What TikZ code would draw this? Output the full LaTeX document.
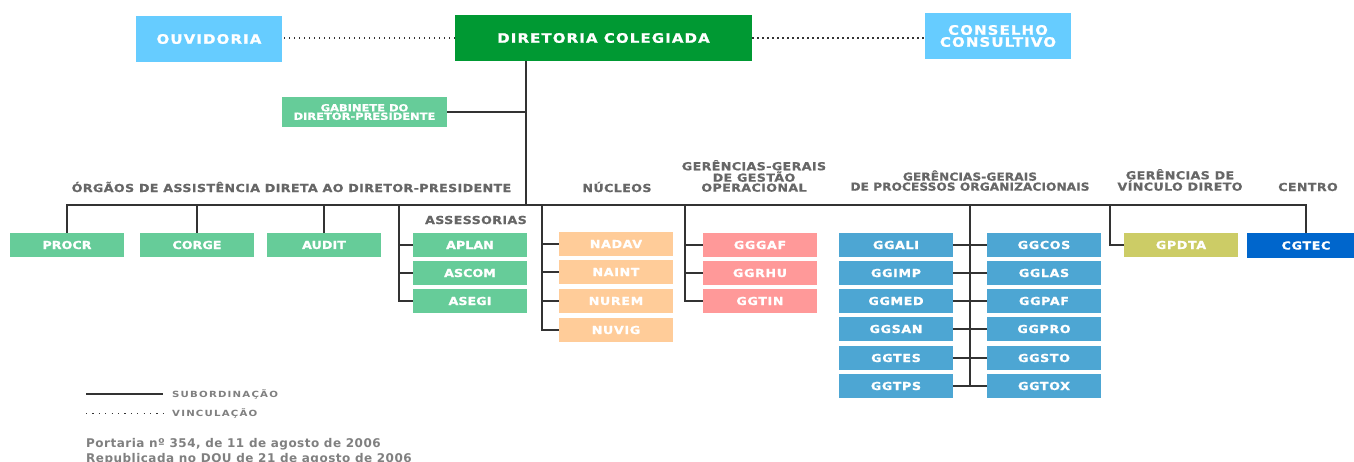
\documentclass[tikz,border=0pt]{standalone}
\usepackage{fontspec}
\setmainfont{DejaVu Sans}
\definecolor{cbl}{HTML}{66CCFF}
\definecolor{cdir}{HTML}{009933}
\definecolor{cgr}{HTML}{66CC99}
\definecolor{cor}{HTML}{FFCC99}
\definecolor{cpk}{HTML}{FF9999}
\definecolor{cgg}{HTML}{4DA6D3}
\definecolor{cyl}{HTML}{CCCC66}
\definecolor{cct}{HTML}{0066CC}
\definecolor{clab}{HTML}{666666}
\definecolor{cleg}{HTML}{808080}
\definecolor{cline}{HTML}{333333}
\newcommand\fbig{\fontsize{13}{12}\selectfont\bfseries\addfontfeatures{FakeStretch=1.15,FakeBold=1.2,LetterSpace=8.7}}
\newcommand\fgab{\fontsize{9.8}{8.5}\selectfont\bfseries\addfontfeatures{FakeStretch=1.17,FakeBold=1,LetterSpace=0}}
\newcommand\fgreen{\fontsize{11}{12}\selectfont\bfseries\addfontfeatures{FakeStretch=1.15,FakeBold=1.2,LetterSpace=0.5}}
\newcommand\fsmall{\fontsize{11}{12}\selectfont\bfseries\addfontfeatures{FakeStretch=1.15,FakeBold=1.2,LetterSpace=6}}
\newcommand\flab{\fontsize{11}{10}\selectfont\bfseries\addfontfeatures{FakeStretch=1.15,FakeBold=0.8,LetterSpace=3.5}}
\newcommand\flabn{\fontsize{11}{10}\selectfont\bfseries\addfontfeatures{FakeStretch=1.1,FakeBold=0.8,LetterSpace=1}}
\newcommand\fleg{\fontsize{8.5}{10}\selectfont\bfseries\addfontfeatures{FakeStretch=1.2,LetterSpace=14}}
\newcommand\fport{\fontsize{12}{14}\selectfont\bfseries\addfontfeatures{LetterSpace=4}}
\tikzset{
  sub/.style={draw=cline, line width=1.4pt},
  vinc/.style={draw=cline, line width=1.3pt, dash pattern=on 1.3pt off 3.7pt},
  box/.style={inner sep=0pt, text=white},
  bigbox/.style={box, minimum width=146pt, minimum height=46pt, font=\fbig, align=center},
  gabbox/.style={box, fill=cgr, minimum width=165pt, minimum height=30pt, font=\fgab, align=center},
  sbox/.style={box, minimum width=114pt, minimum height=24pt, font=\fsmall},
  gbox/.style={sbox, fill=cgr, font=\fgreen},
  obox/.style={sbox, fill=cor},
  pbox/.style={sbox, fill=cpk},
  bbox/.style={sbox, fill=cgg},
  lbl/.style={inner sep=0pt, text=clab, font=\flab, align=center},
  leg/.style={inner sep=0pt, text=cleg, font=\fleg},
  port/.style={inner sep=0pt, text=cleg, font=\fport}
}
\begin{document}
\begin{tikzpicture}[x=1pt,y=-1pt]
\clip (0,0) rectangle (1354,461);
\fill[white] (0,0) rectangle (1354,461);
% top
\node[bigbox, fill=cbl] (ouv) at (209,39) {OUVIDORIA};
\node[bigbox, fill=cdir, minimum width=297pt] (dir) at (603.5,38) {DIRETORIA COLEGIADA};
\node[bigbox, fill=cbl] (cons) at (998,36) {CONSELHO\\CONSULTIVO};
\node[gabbox] (gab) at (364.5,112) {GABINETE DO\\DIRETOR-PRESIDENTE};
\draw[vinc] (dir.west) -- (dir.west -| ouv.east);
\draw[vinc] (dir.east) -- (dir.east -| cons.west);
\coordinate (trunk) at (526,205);
\draw[sub] (dir.south -| trunk) -- (trunk);
\draw[sub] (gab.east) -- (gab.east -| trunk);
% group labels
\node[lbl, anchor=base] (l1) at (291.5,192) {ÓRGÃOS DE ASSISTÊNCIA DIRETA AO DIRETOR-PRESIDENTE};
\node[lbl, anchor=base east] (l2) at (527,224) {ASSESSORIAS};
\node[lbl, anchor=base] (l3) at (617,192) {NÚCLEOS};
\node[lbl, anchor=south] (l4) at (754,192) {GERÊNCIAS-GERAIS\\DE GESTÃO\\OPERACIONAL};
\node[lbl, anchor=south, font=\flabn] (l5) at (970,191) {GERÊNCIAS-GERAIS\\DE PROCESSOS ORGANIZACIONAIS};
\node[lbl, anchor=south] (l6) at (1180,191) {GERÊNCIAS DE\\VÍNCULO DIRETO};
\node[lbl, anchor=base] (l7) at (1308,191) {CENTRO};
% green
\node[gbox] (procr) at (67,245) {PROCR};
\node[gbox] (corge) at (197,245) {CORGE};
\node[gbox] (audit) at (324,245) {AUDIT};
\node[gbox] (aplan) at (470,245) {APLAN};
\node[gbox] (ascom) at (470,273) {ASCOM};
\node[gbox] (asegi) at (470,301) {ASEGI};
% orange
\node[obox] (nadav) at (616,244) {NADAV};
\node[obox] (naint) at (616,272) {NAINT};
\node[obox] (nurem) at (616,301) {NUREM};
\node[obox] (nuvig) at (616,330) {NUVIG};
% pink
\node[pbox] (gggaf) at (760,245) {GGGAF};
\node[pbox] (ggrhu) at (760,273) {GGRHU};
\node[pbox] (ggtin) at (760,301) {GGTIN};
% blue
\node[bbox] (ggali) at (896,245) {GGALI};
\node[bbox] (ggimp) at (896,273) {GGIMP};
\node[bbox] (ggmed) at (896,301) {GGMED};
\node[bbox] (ggsan) at (896,329) {GGSAN};
\node[bbox] (ggtes) at (896,358) {GGTES};
\node[bbox] (ggtps) at (896,386) {GGTPS};
\node[bbox] (ggcos) at (1044,245) {GGCOS};
\node[bbox] (gglas) at (1044,273) {GGLAS};
\node[bbox] (ggpaf) at (1044,301) {GGPAF};
\node[bbox] (ggpro) at (1044,329) {GGPRO};
\node[bbox] (ggsto) at (1044,358) {GGSTO};
\node[bbox] (ggtox) at (1044,386) {GGTOX};
\node[sbox, fill=cyl] (gpdta) at (1181,245) {GPDTA};
\node[sbox, fill=cct, minimum width=118pt, minimum height=25pt] (cgtec) at (1306,245.5) {CGTEC};
% connectors
\draw[sub] (procr.north) -- (procr.north |- trunk) -| (cgtec.north);
\draw[sub] (corge.north) -- (corge.north |- trunk);
\draw[sub] (audit.north) -- (audit.north |- trunk);
\coordinate (assv) at (399,205);
\draw[sub] (assv) |- (asegi.west);
\draw[sub] (aplan.west) -- (aplan.west -| assv);
\draw[sub] (ascom.west) -- (ascom.west -| assv);
\coordinate (nucv) at (542,205);
\draw[sub] (nucv) |- (nuvig.west);
\draw[sub] (nadav.west) -- (nadav.west -| nucv);
\draw[sub] (naint.west) -- (naint.west -| nucv);
\draw[sub] (nurem.west) -- (nurem.west -| nucv);
\coordinate (gesv) at (685,205);
\draw[sub] (gesv) |- (ggtin.west);
\draw[sub] (gggaf.west) -- (gggaf.west -| gesv);
\draw[sub] (ggrhu.west) -- (ggrhu.west -| gesv);
\coordinate (prov) at (970,205);
\draw[sub] (prov) -- (prov |- ggtps.east);
\draw[sub] (ggali.east) -- (ggcos.west);
\draw[sub] (ggimp.east) -- (gglas.west);
\draw[sub] (ggmed.east) -- (ggpaf.west);
\draw[sub] (ggsan.east) -- (ggpro.west);
\draw[sub] (ggtes.east) -- (ggsto.west);
\draw[sub] (ggtps.east) -- (ggtox.west);
\coordinate (vinv) at (1110,205);
\draw[sub] (vinv) |- (gpdta.west);
% legend
\coordinate (ls1) at (86,394); \coordinate (ls2) at (163,394);
\draw[sub, line width=1.2pt] (ls1) -- (ls2);
\node[leg, anchor=base west] (lsub) at (172,397) {SUBORDINAÇÃO};
\coordinate (lv1) at (86,413); \coordinate (lv2) at (163,413);
\draw[vinc, line width=1pt, dash pattern=on 1.2pt off 5.2pt] (lv1) -- (lv2);
\node[leg, anchor=base west] (lvin) at (172,416) {VINCULAÇÃO};
\node[port, anchor=base west] (port1) at (86,447.5) {Portaria nº 354, de 11 de agosto de 2006};
\node[port, anchor=base west] (port2) at (86,462) {Republicada no DOU de 21 de agosto de 2006};
\end{tikzpicture}
\end{document}
